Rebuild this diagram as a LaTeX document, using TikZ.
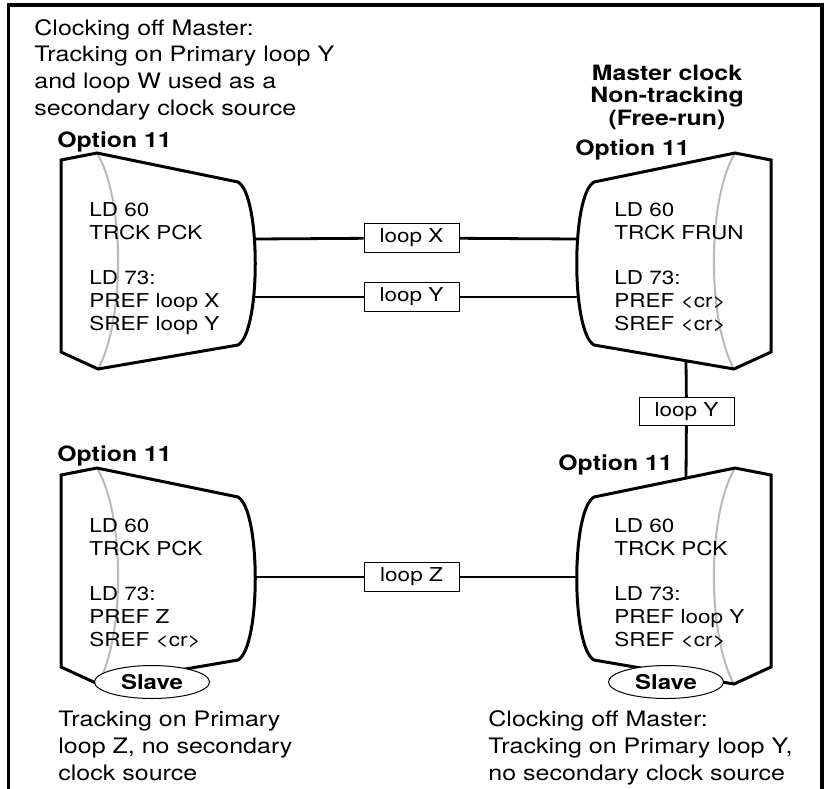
\documentclass[tikz,border=0pt]{standalone}
\usepackage{fontspec}
\setmainfont{TeX Gyre Heros}
\usetikzlibrary{shapes.geometric}

\begin{document}
\begin{tikzpicture}[x=0.5pt,y=-0.5pt]
\tikzstyle{every node}+=[inner sep=0pt]
\tikzstyle{note}=[font=\fontsize{12.5}{15.6}\selectfont, align=left, anchor=base west, yscale=0.85]
\tikzstyle{opt}=[font=\bfseries\fontsize{12.4}{15.6}\selectfont, anchor=base west, yscale=0.85]
\tikzstyle{head}=[font=\bfseries\fontsize{12.4}{13.2}\selectfont, align=center, anchor=base, yscale=0.85]
\tikzstyle{body}=[font=\fontsize{11.25}{13.35}\selectfont, align=left, anchor=base west, yscale=0.85]
\tikzstyle{loopbox}=[draw, line width=0.5pt, fill=white, minimum width=47.5pt, minimum height=16.5pt, font=\fontsize{11.25}{13.35}\selectfont, yscale=0.85]
\tikzstyle{slave}=[draw, ellipse, line width=0.5pt, fill=white, minimum width=57.5pt, minimum height=19.4pt, font=\bfseries\fontsize{12}{14}\selectfont, yscale=0.85]
\tikzstyle{shell}=[line width=1.5pt, line join=miter]
\tikzstyle{rim}=[line width=1pt, gray!55]
\tikzstyle{wire}=[line width=1.4pt]
\useasboundingbox (0,0) rectangle (828,788);
\draw [line width=1.6pt] (8.5,800) -- (8.5,5) -- (822,5) -- (822,800);
\node (topnote) at (34,115) [note] {Clocking off Master:\\Tracking on Primary loop Y\\and loop W used as a\\secondary clock source};
\node (mhead) at (667,125) [head] {Master clock\\Non-tracking\\(Free-run)};
\draw [rim] (97,153) .. controls (125,200) and (125,320) .. (98,369);
\draw [shell] (61,160) -- (97,153) -- (238,182) .. controls (261,195) and (261,332) .. (238,345) -- (98,369) -- (61,352) -- cycle;
\node (tlopt) at (57,147) [opt] {Option 11};
\node (tlcfg) at (89,330) [body] {LD 60\\TRCK PCK\\[13.35pt]LD 73:\\PREF loop X\\SREF loop Y};
\draw [rim] (735,153) .. controls (707,200) and (707,320) .. (734,369);
\draw [shell] (771,160) -- (735,153) -- (594,182) .. controls (571,195) and (571,332) .. (594,345) -- (734,369) -- (771,352) -- cycle;
\node (tropt) at (575,155) [opt] {Option 11};
\node (trcfg) at (614,330) [body] {LD 60\\TRCK FRUN\\[13.35pt]LD 73:\\PREF <cr>\\SREF <cr>};
\draw [rim] (97,468) .. controls (125,515) and (125,635) .. (98,684);
\draw [shell] (61,475) -- (97,468) -- (238,497) .. controls (261,510) and (261,647) .. (238,660) -- (98,684) -- (61,667) -- cycle;
\node (blopt) at (57,461) [opt] {Option 11};
\node (blcfg) at (89,646) [body] {LD 60\\TRCK PCK\\[13.35pt]LD 73:\\PREF Z\\SREF <cr>};
\draw [rim] (735,468) .. controls (707,515) and (707,635) .. (734,684);
\draw [shell] (771,475) -- (735,468) -- (594,497) .. controls (571,510) and (571,647) .. (594,660) -- (734,684) -- (771,667) -- cycle;
\node (bropt) at (558,470) [opt] {Option 11};
\node (brcfg) at (614,646) [body] {LD 60\\TRCK PCK\\[13.35pt]LD 73:\\PREF loop Y\\SREF <cr>};
\coordinate (tlx) at (254,239);
\coordinate (tly) at (254,297);
\coordinate (trx) at (578,239);
\coordinate (try) at (578,297);
\coordinate (trb) at (686,361);
\coordinate (brt) at (686,478);
\coordinate (blz) at (254,577);
\coordinate (brz) at (578,577);
\node (loopx) at (411.5,238) [loopbox] {loop X};
\node (loopy) at (411.5,297) [loopbox] {loop Y};
\node (loopyv) at (686.5,411.5) [loopbox] {loop Y};
\node (loopz) at (411.5,577) [loopbox] {loop Z};
\draw [wire] (tlx) -- (loopx) -- (trx);
\draw [wire] (tly) -- (loopy) -- (try);
\draw [wire] (trb) -- (loopyv) -- (brt);
\draw [wire] (blz) -- (loopz) -- (brz);
\node (slavel) at (152,682) [slave] {Slave};
\node (slaver) at (666,682) [slave] {Slave};
\node (blnote) at (58,780) [note] {Tracking on Primary\\loop Z, no secondary\\clock source};
\node (brnote) at (488,780) [note] {Clocking off Master:\\Tracking on Primary loop Y,\\no secondary clock source};
\end{tikzpicture}
\end{document}
